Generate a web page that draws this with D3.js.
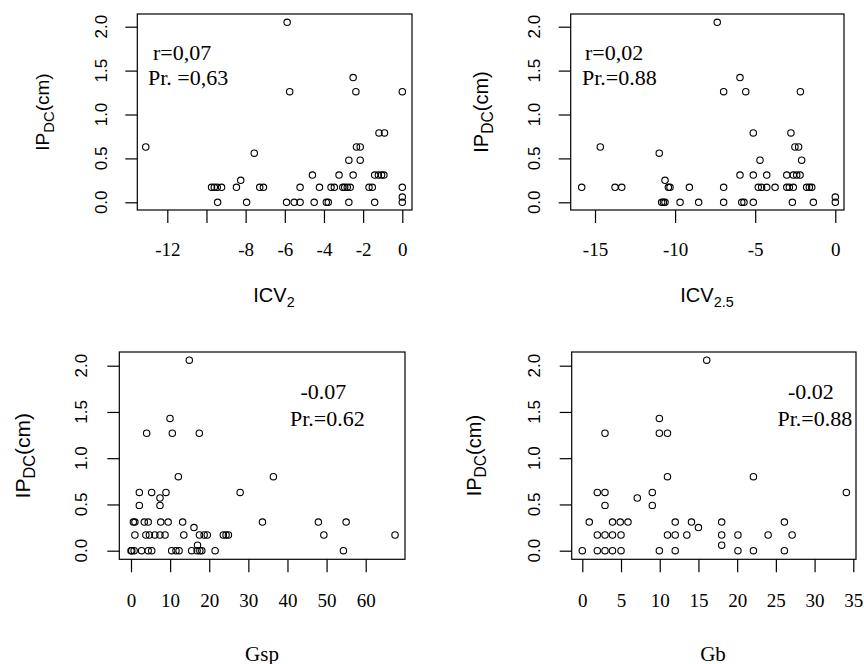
<!DOCTYPE html>
<html>
<head>
<meta charset="utf-8">
<script src="https://cdn.jsdelivr.net/npm/d3@7"></script>
<style>
  body { margin: 0; background: #fff; }
  svg { display: block; }
</style>
</head>
<body>
<script>
// IPDC (cm) against ICV2
const icv2X = [-5.88, -2.51, -5.75, -2.37, 0, -1.19, -0.91, -13.1, -2.34, -2.15, -7.56, -2.73, -2.15,
  -4.59, -3.23, -2.51, -1.41, -1.22, -1.06, -0.94, -8.25,
  -9.74, -9.6, -9.45, -9.23, -8.47, -7.28, -7.09, -5.22, -4.23, -3.64, -3.47, -3.04, -2.94, -2.81, -2.66, -1.7, -1.53, 0,
  0,
  -9.43, -7.95, -5.91, -5.52, -5.22, -4.5, -3.88, -3.78, -2.73, -1.41, 0];
const icv2Y = [2.05, 1.42, 1.26, 1.26, 1.26, 0.79, 0.79, 0.63, 0.63, 0.63, 0.56, 0.48, 0.48,
  0.31, 0.31, 0.31, 0.31, 0.31, 0.31, 0.31, 0.25,
  0.17, 0.17, 0.17, 0.17, 0.17, 0.17, 0.17, 0.17, 0.17, 0.17, 0.17, 0.17, 0.17, 0.17, 0.17, 0.17, 0.17, 0.17,
  0.06,
  0, 0, 0, 0, 0, 0, 0, 0, 0, 0, 0];

// IPDC (cm) against ICV2.5
const icv25X = [-7.37, -5.95, -6.97, -5.59, -2.18, -5.12, -2.77, -14.67, -2.52, -2.29, -10.99, -4.7, -2.1,
  -5.95, -5.12, -4.28, -3.03, -2.62, -2.41, -2.2, -10.63,
  -15.83, -13.75, -13.33, -10.42, -10.32, -9.11, -6.97, -4.81, -4.6, -4.28, -3.76, -3.03, -2.87, -2.62, -1.79, -1.62, -1.47,
  0,
  -10.84, -10.73, -10.63, -9.69, -8.53, -6.97, -5.84, -5.7, -5.12, -2.68, -1.37, 0];
const icv25Y = [2.05, 1.42, 1.26, 1.26, 1.26, 0.79, 0.79, 0.63, 0.63, 0.63, 0.56, 0.48, 0.48,
  0.31, 0.31, 0.31, 0.31, 0.31, 0.31, 0.31, 0.25,
  0.17, 0.17, 0.17, 0.17, 0.17, 0.17, 0.17, 0.17, 0.17, 0.17, 0.17, 0.17, 0.17, 0.17, 0.17, 0.17, 0.17,
  0.06,
  0, 0, 0, 0, 0, 0, 0, 0, 0, 0, 0, 0];

// IPDC (cm) against Gsp
const gspX = [14.9, 9.97, 4.0, 10.56, 17.46, 12.1, 36.4, 2.13, 5.28, 8.94, 27.9, 7.41, 2.13, 7.41,
  0.6, 1.0, 3.4, 4.4, 7.6, 9.5, 13.2, 33.6, 47.9, 55.0, 16.1,
  1.0, 3.8, 4.7, 6.1, 7.4, 8.7, 13.5, 17.5, 18.7, 19.5, 23.6, 24.3, 24.9, 49.3, 67.5,
  17.0,
  0, 0.2, 0.8, 2.7, 4.4, 5.3, 10.4, 11.5, 12.3, 15.5, 16.9, 17.6, 18.1, 21.5, 54.3];
const gspY = [2.06, 1.43, 1.27, 1.27, 1.27, 0.8, 0.8, 0.63, 0.63, 0.63, 0.63, 0.57, 0.49, 0.49,
  0.31, 0.31, 0.31, 0.31, 0.31, 0.31, 0.31, 0.31, 0.31, 0.31, 0.25,
  0.17, 0.17, 0.17, 0.17, 0.17, 0.17, 0.17, 0.17, 0.17, 0.17, 0.17, 0.17, 0.17, 0.17, 0.17,
  0.06,
  0, 0, 0, 0, 0, 0, 0, 0, 0, 0, 0, 0, 0, 0, 0];

// IPDC (cm) against Gb
const gbX = [16.07, 9.95, 2.93, 9.95, 11.0, 11.0, 22.1, 1.94, 2.93, 9.04, 34.1, 7.1, 2.93, 9.04,
  0.9, 3.9, 4.9, 5.9, 12.0, 14.1, 18.0, 26.1, 15.0,
  1.94, 2.93, 3.9, 5.0, 11.0, 12.0, 13.5, 18.0, 20.1, 24.0, 27.1,
  18.0,
  0, 1.94, 2.93, 3.9, 5.0, 9.95, 12.0, 20.1, 22.1, 26.1];
const gbY = [2.06, 1.43, 1.27, 1.27, 1.27, 0.8, 0.8, 0.63, 0.63, 0.63, 0.63, 0.57, 0.49, 0.49,
  0.31, 0.31, 0.31, 0.31, 0.31, 0.31, 0.31, 0.31, 0.25,
  0.17, 0.17, 0.17, 0.17, 0.17, 0.17, 0.17, 0.17, 0.17, 0.17, 0.17,
  0.06,
  0, 0, 0, 0, 0, 0, 0, 0, 0, 0];

// Axis ticks and their labels
const yTicks = [0, 0.5, 1, 1.5, 2];
const yTickLabels = ["0.0", "0.5", "1.0", "1.5", "2.0"];
const icv2Ticks = [-12, -10, -8, -6, -4, -2, 0];
const icv2TickLabels = ["-12", "", "-8", "-6", "-4", "-2", "0"];
const icv25Ticks = [-15, -10, -5, 0];
const icv25TickLabels = ["-15", "-10", "-5", "0"];
const gspTicks = [0, 10, 20, 30, 40, 50, 60];
const gspTickLabels = ["0", "10", "20", "30", "40", "50", "60"];
const gbTicks = [0, 5, 10, 15, 20, 25, 30, 35];
const gbTickLabels = ["0", "5", "10", "15", "20", "25", "30", "35"];

// Correlation notes
const icv2Stats = ["r=0,07", "Pr. =0,63"];
const icv25Stats = ["r=0,02", "Pr.=0.88"];
const gspStats = ["-0.07", "Pr.=0.62"];
const gbStats = ["-0.02", "Pr.=0.88"];

const SERIF = "'Liberation Serif','Times New Roman',serif";
const SANS = "'Liberation Sans',Arial,sans-serif";

const W = 864, H = 664;
const svg = d3.select("body").append("svg")
  .attr("width", W).attr("height", H)
  .attr("viewBox", `0 0 ${W} ${H}`);

const panels = [
  {
    xs: icv2X, ys: icv2Y, box: [137.3, 14, 412, 210],
    xDomain: [-12, 0], xRange: [167.3, 402.3], yRange: [202.3, 26.7],
    xTicks: icv2Ticks, xTickLabels: icv2TickLabels,
    xTitle: { main: "ICV", sub: "2", font: SANS, size: 20, x: 274, y: 302 },
    yTitle: { x: 49, size: 19 }, yTickX: 106.7, xTickY: 256,
    stats: icv2Stats, statsPos: [[153, 60], [148, 85]]
  },
  {
    xs: icv25X, ys: icv25Y, box: [570.7, 14, 844, 210],
    xDomain: [-15, 0], xRange: [595, 835.3], yRange: [202.3, 26.7],
    xTicks: icv25Ticks, xTickLabels: icv25TickLabels,
    xTitle: { main: "ICV", sub: "2.5", font: SANS, size: 20, x: 707, y: 302 },
    yTitle: { x: 488, size: 20 }, yTickX: 540, xTickY: 256,
    stats: icv25Stats, statsPos: [[585, 60], [582, 85]]
  },
  {
    xs: gspX, ys: gspY, box: [119.3, 352, 405, 559.3],
    xDomain: [0, 60], xRange: [131, 365.7], yRange: [550.7, 365.7],
    xTicks: gspTicks, xTickLabels: gspTickLabels,
    xTitle: { main: "Gsp", sub: "", font: SERIF, size: 21, x: 262, y: 660.5 },
    yTitle: { x: 30, size: 21 }, yTickX: 87.3, xTickY: 607,
    stats: gspStats, statsPos: [[300.5, 399], [290, 426]]
  },
  {
    xs: gbX, ys: gbY, box: [571.7, 352, 856, 559.3],
    xDomain: [0, 35], xRange: [582.3, 853.3], yRange: [550.7, 365.7],
    xTicks: gbTicks, xTickLabels: gbTickLabels,
    xTitle: { main: "Gb", sub: "", font: SERIF, size: 21, x: 713, y: 660.5 },
    yTitle: { x: 481, size: 20 }, yTickX: 540, xTickY: 607,
    stats: gbStats, statsPos: [[788, 399], [777.5, 426]]
  }
];

panels.forEach(p => {
  const [l, t, r, b] = p.box;
  const x = d3.scaleLinear().domain(p.xDomain).range(p.xRange);
  const y = d3.scaleLinear().domain([0, 2]).range(p.yRange);
  const g = svg.append("g");

  // frame
  g.append("rect")
    .attr("x", l).attr("y", t).attr("width", r - l).attr("height", b - t)
    .attr("fill", "none").attr("stroke", "#000").attr("stroke-width", 1.2);

  // left axis ticks
  const ya = g.append("g").attr("transform", `translate(${l},0)`)
    .call(d3.axisLeft(y).tickValues(yTicks).tickSize(12).tickFormat(""));
  ya.select(".domain").remove();
  ya.selectAll("line").attr("stroke", "#000").attr("stroke-width", 1.2);

  // rotated y tick labels
  g.selectAll(".ytl").data(yTicks).enter().append("text")
    .attr("transform", d => `translate(${p.yTickX},${y(d)}) rotate(-90)`)
    .attr("text-anchor", "middle")
    .attr("font-family", SANS).attr("font-size", 17).attr("fill", "#000")
    .text((d, i) => yTickLabels[i]);

  // bottom axis
  const xa = g.append("g").attr("transform", `translate(0,${b})`)
    .call(d3.axisBottom(x).tickValues(p.xTicks).tickSize(13)
      .tickFormat((d, i) => p.xTickLabels[i]));
  xa.select(".domain").remove();
  xa.selectAll("line").attr("stroke", "#000").attr("stroke-width", 1.2);
  xa.selectAll("text")
    .attr("y", p.xTickY - b).attr("dy", null)
    .attr("font-family", SERIF).attr("font-size", 19).attr("fill", "#000");

  // x title
  const xt = g.append("text")
    .attr("x", p.xTitle.x).attr("y", p.xTitle.y)
    .attr("text-anchor", "middle")
    .attr("font-family", p.xTitle.font).attr("font-size", p.xTitle.size).attr("fill", "#000");
  xt.append("tspan").text(p.xTitle.main);
  if (p.xTitle.sub) {
    xt.append("tspan").attr("dy", 5).attr("font-size", p.xTitle.size * 0.72).text(p.xTitle.sub);
  }

  // y title
  const cy = (t + b) / 2;
  const yt = g.append("text")
    .attr("transform", `translate(${p.yTitle.x},${cy}) rotate(-90)`)
    .attr("text-anchor", "middle")
    .attr("font-family", SANS).attr("font-size", p.yTitle.size).attr("fill", "#000");
  yt.append("tspan").text("IP");
  yt.append("tspan").attr("dy", 5).attr("font-size", p.yTitle.size * 0.78).text("DC");
  yt.append("tspan").attr("dy", -5).text("(cm)");

  // points
  const pts = p.xs.map((v, i) => [v, p.ys[i]]);
  g.selectAll("circle").data(pts).enter().append("circle")
    .attr("cx", d => x(d[0])).attr("cy", d => y(d[1]))
    .attr("r", 3.2)
    .attr("fill", "none").attr("stroke", "#000").attr("stroke-width", 1.1);

  // correlation notes
  p.stats.forEach((s, i) => {
    g.append("text")
      .attr("x", p.statsPos[i][0]).attr("y", p.statsPos[i][1])
      .attr("font-family", SERIF).attr("font-size", 22).attr("fill", "#000")
      .text(s);
  });
});
</script>
</body>
</html>
